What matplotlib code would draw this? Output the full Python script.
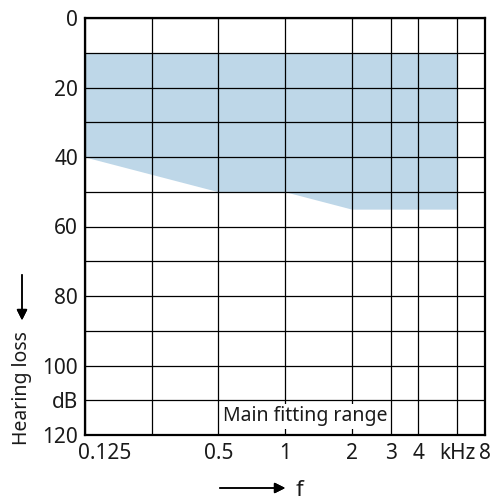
import numpy as np
import matplotlib.pyplot as plt
import matplotlib.transforms as mtrans

plt.rcParams['font.family'] = ['Noto Sans', 'DejaVu Sans']

# grid frequencies (kHz) and levels (dB)
grid_freqs = [0.125, 0.25, 0.5, 1, 2, 3, 4, 6, 8]
grid_levels = list(range(0, 121, 10))

# tick labels
x_tick_pos = [0.125, 0.5, 1, 2, 3, 4, 6, 8]
x_tick_lab = ['0.125', '0.5', '1', '2', '3', '4', 'kHz', '8']
y_tick_pos = [0, 20, 40, 60, 80, 100, 110, 120]
y_tick_lab = ['0', '20', '40', '60', '80', '100', 'dB', '120']

# main fitting range (upper and lower limit)
range_freq = [0.125, 0.5, 1, 2, 6]
range_upper = [10, 10, 10, 10, 10]
range_lower = [40, 50, 50, 55, 55]

fig = plt.figure(figsize=(4.9, 5.0), dpi=100)
ax = fig.add_axes([85/490, 1-435/500, 400/490, 417/500])

ax.set_xscale('log')
ax.set_xlim(0.125, 8)
ax.set_ylim(120, 0)

ax.fill_between(range_freq, range_upper, range_lower, color='#bed7e8', lw=0, zorder=1)

for f in grid_freqs:
    ax.axvline(f, color='black', lw=0.9, zorder=2)
for l in grid_levels:
    ax.axhline(l, color='black', lw=0.9, zorder=2)

ax.xaxis.set_minor_locator(plt.NullLocator())
ax.set_xticks(x_tick_pos)
ax.set_xticklabels(x_tick_lab)
ax.set_yticks(y_tick_pos)
ax.set_yticklabels(y_tick_lab)
ax.tick_params(axis='both', length=0, labelsize=15, colors='#1a1a1a')
ax.tick_params(axis='x', pad=6)
ax.tick_params(axis='y', pad=5)
for s in ax.spines.values():
    s.set_linewidth(1.6)
    s.set_zorder(4)

# first frequency label starts at the left edge instead of being centred
first = ax.get_xticklabels()[0]
first.set_horizontalalignment('left')
first.set_transform(first.get_transform() + mtrans.ScaledTranslation(-7/100, 0, fig.dpi_scale_trans))

ax.text(0.345, 0.045, 'Main fitting range', transform=ax.transAxes, fontsize=14,
        ha='left', va='center', color='#1a1a1a', zorder=3,
        bbox=dict(facecolor='white', edgecolor='none', pad=2.0))

# axis captions with arrows
fig.text(22/490, 1-388/500, 'Hearing loss', rotation=90, ha='center', va='center',
         fontsize=14, color='#1a1a1a')
fig.add_artist(plt.annotate('', xy=(22/490, 1-323/500), xytext=(22/490, 1-272/500),
                            xycoords='figure fraction',
                            arrowprops=dict(arrowstyle='-|>', color='black', lw=1.1,
                                            mutation_scale=16)))
fig.text(299/490, 1-490/500, 'f', ha='center', va='center', fontsize=16, color='#1a1a1a')
fig.add_artist(plt.annotate('', xy=(288/490, 1-488/500), xytext=(217/490, 1-488/500),
                            xycoords='figure fraction',
                            arrowprops=dict(arrowstyle='-|>', color='black', lw=1.1,
                                            mutation_scale=16)))

fig.savefig('out.png', dpi=100)
